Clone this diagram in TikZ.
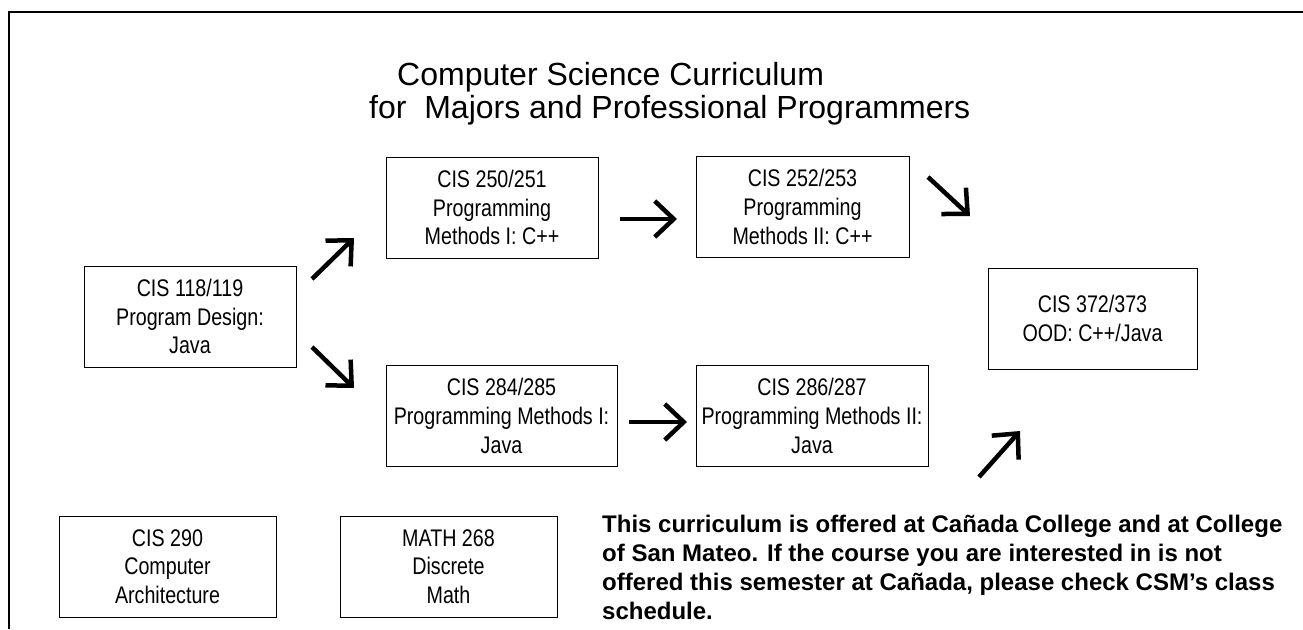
\documentclass[tikz,border=0pt]{standalone}
\usepackage{fontspec}
\setmainfont{Liberation Sans}
\newfontfamily\narrowfont[FakeStretch=0.82]{Liberation Sans}
\usetikzlibrary{arrows.meta}
\tikzset{
  course/.style={draw, line width=1pt, inner sep=0pt, minimum height=101pt, align=center,
    font=\narrowfont\fontsize{24}{28.7}\selectfont},
  flow/.style={line width=4.5pt, -{Straight Barb[length=19pt,width=36pt]}}
}

\begin{document}
\begin{tikzpicture}[x=1pt,y=-1pt]
    \useasboundingbox (0,0) rectangle (1303,629);

    % Frame
    \draw[line width=1.8pt] (9,629) -- (9,12) -- (1303,12);

    % Title
    \node[anchor=base west, inner sep=0pt, font=\fontsize{32}{38}\selectfont] (title1) at (397,85) {Computer Science Curriculum};
    \node[anchor=base west, inner sep=0pt, font=\fontsize{32}{38}\selectfont] (title2) at (369,118) {for\ \ Majors and Professional Programmers};

    % Courses
    \node[course, minimum width=212pt] (c118) at (190,316.5) {CIS 118/119\\Program Design:\\Java};
    \node[course, minimum width=212pt] (c250) at (492,207.5) {CIS 250/251\\Programming\\Methods I: C++};
    \node[course, minimum width=213pt] (c252) at (802.5,207) {CIS 252/253\\Programming\\Methods II: C++};
    \node[course, minimum width=231pt] (c284) at (501.5,416) {CIS 284/285\\Programming Methods I:\\Java};
    \node[course, minimum width=232pt] (c286) at (812,416) {CIS 286/287\\Programming Methods II:\\Java};
    \node[course, minimum width=209pt] (c372) at (1092.5,318.5) {CIS 372/373\\OOD: C++/Java};
    \node[course, minimum width=217pt] (c290) at (167.5,566.5) {CIS 290\\Computer\\Architecture};
    \node[course, minimum width=217pt] (m268) at (448.5,566.5) {MATH 268\\Discrete\\Math};

    % Arrow ends
    \coordinate (up1s) at (312,279);
    \coordinate (up1e) at (354,238);
    \coordinate (dn1s) at (312,347);
    \coordinate (dn1e) at (354,388);
    \coordinate (r1s) at (620,219);
    \coordinate (r1e) at (677,219);
    \coordinate (r2s) at (629,422);
    \coordinate (r2e) at (687,422);
    \coordinate (dn2s) at (928,177);
    \coordinate (dn2e) at (970,216);
    \coordinate (up2s) at (979,477);
    \coordinate (up2e) at (1020,431);

    % Arrows
    \draw[flow] (up1s) -- (up1e);
    \draw[flow] (dn1s) -- (dn1e);
    \draw[flow] (r1s) -- (r1e);
    \draw[flow] (r2s) -- (r2e);
    \draw[flow] (dn2s) -- (dn2e);
    \draw[flow] (up2s) -- (up2e);

    % Note (base = last line)
    \node[anchor=base west, align=left, inner sep=0pt, font=\bfseries\fontsize{24}{29}\selectfont] (note) at (602,619)
      {This curriculum is offered at Cañada College and at College\\of San Mateo. If the course you are interested in is not\\offered this semester at Cañada, please check CSM’s class\\schedule.};
\end{tikzpicture}
\end{document}
